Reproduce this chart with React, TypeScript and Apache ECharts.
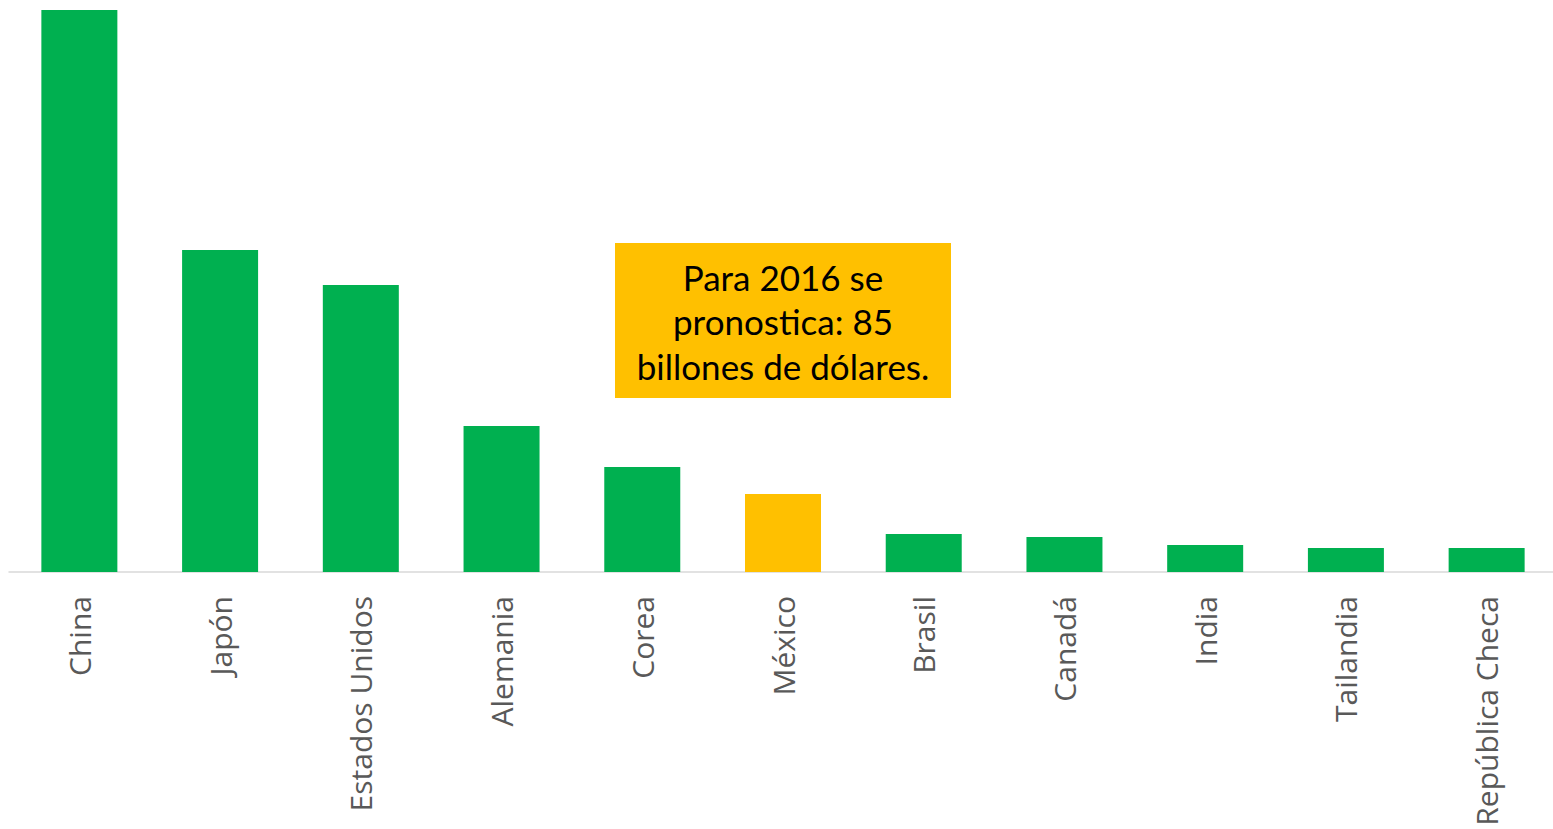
import React, { useEffect, useRef } from "react";
import * as echarts from "echarts";

const categories = [
  "China",
  "Japón",
  "Estados Unidos",
  "Alemania",
  "Corea",
  "México",
  "Brasil",
  "Canadá",
  "India",
  "Tailandia",
  "República Checa",
];
const values = [562, 322, 287, 146, 105, 78, 38, 35, 27, 24, 24];
const highlight = "México";
const annotationLines = ["Para 2016 se", "pronostica: 85", "billones de dólares."];

export default function App() {
  const ref = useRef<HTMLDivElement>(null);
  useEffect(() => {
    if (!ref.current) return;
    const chart = echarts.init(ref.current, undefined, { renderer: "svg" });
    chart.setOption({
      animation: false,
      backgroundColor: "#ffffff",
      grid: {
        left: 9,
        width: 1548,
        top: 10,
        bottom: 257,
        containLabel: false,
        outerBoundsMode: "none",
      },
      xAxis: {
        type: "category",
        data: categories,
        axisLine: { show: true, lineStyle: { color: "#d9d9d9", width: 1.5 } },
        axisTick: { show: false },
        axisLabel: {
          rotate: 90,
          interval: 0,
          margin: 24,
          color: "#595959",
          fontFamily: "Open Sans",
          fontSize: 30,
        },
      },
      yAxis: {
        type: "value",
        min: 0,
        max: 562,
        show: false,
        splitLine: { show: false },
      },
      series: [
        {
          type: "bar",
          barWidth: 76,
          data: values.map((v, i) => ({
            value: v,
            itemStyle: { color: categories[i] === highlight ? "#FFC000" : "#00B050" },
          })),
        },
      ],
      graphic: [
        {
          type: "rect",
          left: 615,
          top: 243,
          shape: { width: 336, height: 155 },
          style: { fill: "#FFC000" },
          z: 10,
        },
        {
          type: "text",
          x: 783,
          y: 321,
          z: 11,
          style: {
            text: annotationLines.join("\n"),
            fill: "#000000",
            fontFamily: "Lato",
            fontSize: 35,
            lineHeight: 44.5,
            align: "center",
            verticalAlign: "middle",
          },
        },
      ],
    });
    return () => chart.dispose();
  }, []);
  return (
    <div
      ref={ref}
      style={{ position: "absolute", left: 0, top: 0, width: 1553, height: 829 }}
    />
  );
}
